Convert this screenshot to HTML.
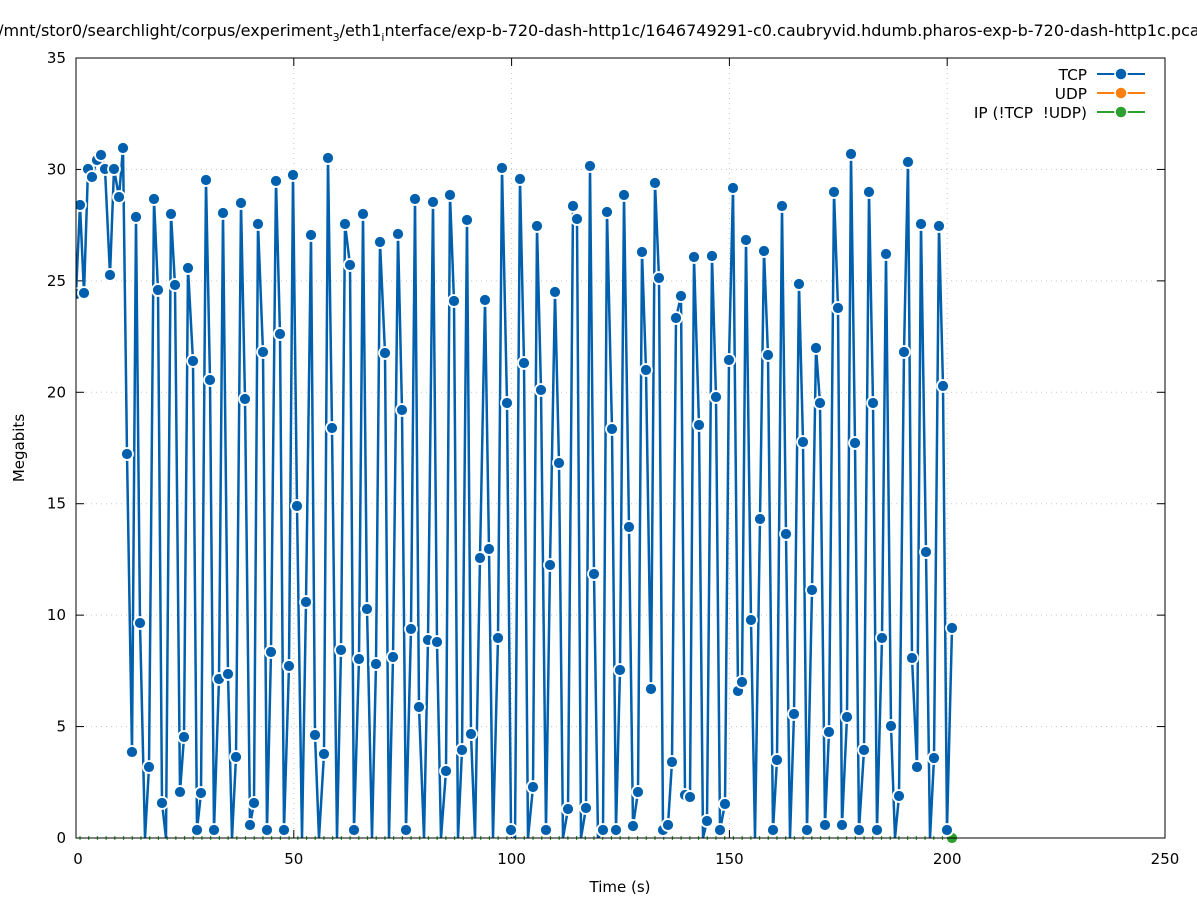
<!DOCTYPE html>
<html><head><meta charset="utf-8"><style>
html,body{margin:0;padding:0;background:#fff;overflow:hidden}
svg{display:block;font-family:"DejaVu Sans","Liberation Sans",sans-serif}
</style></head><body>
<svg id="s" width="1197" height="900" viewBox="0 0 1197 900" xmlns="http://www.w3.org/2000/svg">
<rect width="1197" height="900" fill="#fff"/>
<g id="grid" stroke="#c8c8c8" stroke-width="1" stroke-dasharray="1,4"></g>
<g id="ticks" stroke="#000" stroke-width="1"></g>
<g id="labels" font-size="15" fill="#000"></g>
<text x="604" y="36" font-size="16" text-anchor="middle">/mnt/stor0/searchlight/corpus/experiment<tspan font-size="11" dy="5">3</tspan><tspan dy="-5">/eth1</tspan><tspan font-size="11" dy="5">i</tspan><tspan dy="-5">nterface/exp-b-720-dash-http1c/1646749291-c0.caubryvid.hdumb.pharos-exp-b-720-dash-http1c.pcap</tspan></text>
<text x="24" y="448" font-size="15" text-anchor="middle" transform="rotate(-90 24 448)">Megabits</text>
<text x="620" y="892" font-size="15" text-anchor="middle">Time (s)</text>
<defs><clipPath id="cp"><rect x="76" y="58" width="1089" height="780"/></clipPath></defs>
<g id="ip"></g>
<g id="data" clip-path="url(#cp)"></g>
<rect x="76" y="58" width="1089" height="780" fill="none" stroke="#000" stroke-width="1"/>
<g font-size="15.3">
<text x="1087" y="80" text-anchor="end">TCP</text>
<line x1="1097" y1="74" x2="1145" y2="74" stroke="#0060ad" stroke-width="2"/>
<circle cx="1121" cy="74" r="6" fill="#0060ad" stroke="#fff" stroke-width="1.5"/>
<text x="1087" y="99" text-anchor="end">UDP</text>
<line x1="1097" y1="93" x2="1145" y2="93" stroke="#ff7f0e" stroke-width="2"/>
<circle cx="1121" cy="93" r="6" fill="#ff7f0e" stroke="#fff" stroke-width="1.5"/>
<text x="1087" y="118" text-anchor="end">IP (!TCP&#160;&#160;!UDP)</text>
<line x1="1097" y1="112" x2="1145" y2="112" stroke="#2ca02c" stroke-width="2"/>
<circle cx="1121" cy="112" r="6" fill="#2ca02c" stroke="#fff" stroke-width="1.5"/>
</g>
</svg>
<script>
var NS="http://www.w3.org/2000/svg";
function el(t,a,p){var e=document.createElementNS(NS,t);for(var k in a)e.setAttribute(k,a[k]);if(p)p.appendChild(e);return e;}
var grid=document.getElementById('grid'),ticks=document.getElementById('ticks'),labels=document.getElementById('labels');
for(var v=0;v<=35;v+=5){var y=838-v*22.2857;
 if(v>0&&v<35)el('line',{x1:76,x2:1165,y1:y,y2:y},grid);
 el('line',{x1:76,x2:84,y1:y,y2:y},ticks);el('line',{x1:1157,x2:1165,y1:y,y2:y},ticks);
 var t=el('text',{x:66,y:y+5,'text-anchor':'end'},labels);t.textContent=v;}
for(var v=0;v<=250;v+=50){var x=76+v*4.356;
 if(v>0&&v<250)el('line',{x1:x,x2:x,y1:58,y2:838},grid);
 el('line',{x1:x,x2:x,y1:838,y2:830},ticks);el('line',{x1:x,x2:x,y1:58,y2:66},ticks);
 var t=el('text',{x:x+(v==0?2:0),y:864,'text-anchor':'middle'},labels);t.textContent=v;}
var P=[76,294,80,205,84,293,88,169,92,177,97,160,101,155,105,169,110,275,114,169,119,197,123,148,127,454,132,752,136,217,140,623,145,838,149,767,154,199,158,290,162,803,166,838,171,214,175,285,180,792,184,737,188,268,193,361,197,830,201,793,206,180,210,380,214,830,219,679,223,213,228,674,232,838,236,757,241,203,245,399,250,825,254,803,258,224,263,352,267,830,271,652,276,181,280,334,284,830,289,666,293,175,297,506,302,838,306,602,311,235,315,735,319,838,324,754,328,158,332,428,337,838,341,650,345,224,350,265,354,830,359,659,363,214,367,609,372,838,376,664,380,242,385,353,389,838,393,657,398,234,402,410,406,830,411,629,415,199,419,707,424,838,428,640,433,202,437,642,441,838,446,771,450,195,454,301,458,838,462,750,467,220,471,734,475,838,480,558,485,300,489,549,493,838,498,638,502,168,507,403,511,830,515,838,520,179,524,363,528,838,533,787,537,226,541,390,546,830,550,565,555,292,559,463,563,838,568,809,573,206,577,219,581,838,586,808,590,166,594,574,598,838,603,830,607,212,612,429,616,830,620,670,624,195,629,527,633,826,638,792,642,252,646,370,651,689,655,183,659,278,663,830,668,825,672,762,676,318,681,296,685,795,690,797,694,257,699,425,703,838,707,821,712,256,716,397,720,830,725,804,729,360,733,188,738,691,742,682,746,240,751,620,755,838,760,519,764,251,768,355,773,830,777,760,782,206,786,534,790,838,794,714,799,284,803,442,807,830,812,590,816,348,820,403,825,825,829,732,834,192,838,308,842,825,847,717,851,154,855,443,859,830,864,750,869,192,873,403,877,830,882,638,886,254,891,726,895,838,899,796,904,352,908,162,912,658,917,767,921,224,926,552,930,838,934,758,939,226,943,386,947,830,952,628];
var d=document.getElementById('data'),pts=[];
for(var i=0;i<P.length;i+=2)pts.push(P[i]+','+P[i+1]);
el('polyline',{points:pts.join(' '),fill:'none',stroke:'#0060ad','stroke-width':2.5,'stroke-linejoin':'miter'},d);
for(var i=0;i<P.length;i+=2){if(P[i+1]>=836)continue;el('circle',{cx:P[i],cy:P[i+1],r:6,fill:'#0060ad',stroke:'#fff','stroke-width':1.8},d);}
var ip=document.getElementById('ip');
for(var x=80;x<952;x+=8.712)el('line',{x1:x,x2:x,y1:836,y2:840,stroke:'#2ca02c','stroke-width':1.2},ip);
el('circle',{cx:952,cy:838,r:6,fill:'#2ca02c',stroke:'#fff','stroke-width':1.8},ip);
</script>
</body></html>
